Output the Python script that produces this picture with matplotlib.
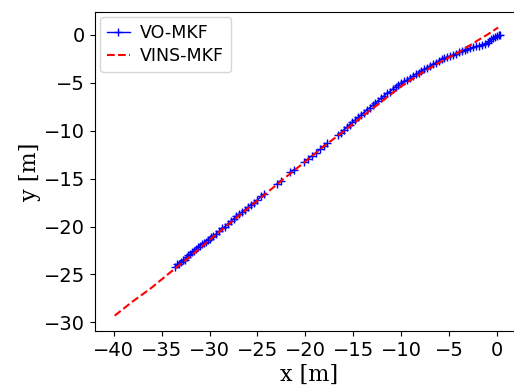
import numpy as np
import matplotlib
matplotlib.use("Agg")
import matplotlib.pyplot as plt

nan = np.nan
vo_x = [-33.6, -33.4, -33.2, -33.0, -32.8, -32.6, -32.4, -32.2, -32.0, -31.8,
        -31.6, -31.4, -31.2, -31.0, -30.8, -30.6, -30.4, -30.2, -30.0, -29.8,
        -29.6, -29.3, -29.0, -28.7, -28.4, -28.1, -27.8, -27.5, -27.2, -26.9,
        -26.6, -26.3, -26.0, -25.7, -25.4, -25.0, -24.6, -24.3, nan,
        -23.0, -22.6, nan, -21.6, -21.2, nan,
        -20.1, -19.7, -19.3, -18.9, -18.5, -18.1, -17.7, nan,
        -16.6, -16.3, -16.0, -15.7, -15.4, -15.1, -14.8, -14.5, -14.2, -13.9,
        -13.6, -13.3, -13.0, -12.7, -12.4, -12.1, -11.8, -11.5, -11.2, -10.9,
        -10.6, -10.3, -10.0, -9.7, -9.4, -9.1, -8.8, -8.5, -8.2, -7.9,
        -7.6, -7.3, -7.0, -6.7, -6.4, -6.1, -5.8, -5.5, -5.2, -4.9,
        -4.6, -4.3, -4.0, -3.7, -3.4, -3.1, -2.8, -2.5, -2.2, -1.9,
        -1.6, -1.3, -1.0, -0.8, -0.6, -0.4, -0.2, 0.0, 0.2, 0.3]
vo_y = [-24.2, -23.95, -23.9, -23.7, -23.5, -23.45, -23.2, -23.0, -22.9, -22.65,
        -22.5, -22.3, -22.15, -22.0, -21.85, -21.7, -21.6, -21.4, -21.3, -21.1,
        -20.95, -20.75, -20.5, -20.2, -20.0, -19.7, -19.45, -19.2, -18.9, -18.7,
        -18.45, -18.25, -18.0, -17.7, -17.5, -17.2, -16.85, -16.6, nan,
        -15.55, -15.2, nan, -14.35, -14.05, nan,
        -13.25, -12.9, -12.6, -12.3, -11.95, -11.6, -11.25, nan,
        -10.4, -10.2, -9.9, -9.65, -9.35, -9.1, -8.85, -8.6, -8.35, -8.1,
        -7.8, -7.6, -7.35, -7.1, -6.85, -6.6, -6.35, -6.1, -5.9, -5.65,
        -5.4, -5.2, -5.0, -4.85, -4.7, -4.5, -4.3, -4.1, -3.95, -3.75,
        -3.6, -3.4, -3.25, -3.05, -2.9, -2.7, -2.55, -2.4, -2.3, -2.2,
        -2.05, -1.95, -1.8, -1.7, -1.6, -1.5, -1.4, -1.3, -1.2, -1.1,
        -1.0, -0.9, -0.8, -0.6, -0.45, -0.3, -0.2, -0.1, 0.0, 0.05]

vins_x = [-39.9, -38.0, -36.2, -34.0, -32.0, -30.0, -28.0, -26.0, -24.0, -22.0,
          -20.0, -18.0, -16.0, -14.0, -12.0, -10.0, -8.0, -6.0, -4.0, -2.0,
          -1.0, 0.1]
vins_y = [-29.3, -27.8, -26.5, -24.7, -23.1, -21.4, -19.75, -18.1, -16.45, -14.8,
          -13.2, -11.55, -10.05, -8.45, -6.9, -5.35, -4.05, -2.85, -1.8, -0.55,
          0.05, 0.78]

fig = plt.figure(figsize=(5.14, 3.87), dpi=100)
ax = fig.add_axes([95/514, 1-331/387, (524-95)/514, (331-12)/387])
ax.plot(vo_x, vo_y, color='blue', marker='+', markersize=6, linewidth=1.0,
        label='VO-MKF')
ax.plot(vins_x, vins_y, color='red', linestyle='--', linewidth=1.5,
        label='VINS-MKF')
ax.set_xlim(-41.95, 2.8)
ax.set_ylim(-30.9, 2.4)
ax.set_xticks([-40, -35, -30, -25, -20, -15, -10, -5, 0])
ax.set_yticks([0, -5, -10, -15, -20, -25, -30])
ax.tick_params(labelsize=14)
ax.set_xlabel('x [m]', family='DejaVu Serif', fontsize=16, labelpad=3)
ax.set_ylabel('y [m]', family='DejaVu Serif', fontsize=16, labelpad=2)
ax.legend(loc='upper left', fontsize=12.5, handlelength=1.3,
          borderaxespad=0.3, labelspacing=0.3, handletextpad=0.6)
fig.savefig('out.png', dpi=100)
